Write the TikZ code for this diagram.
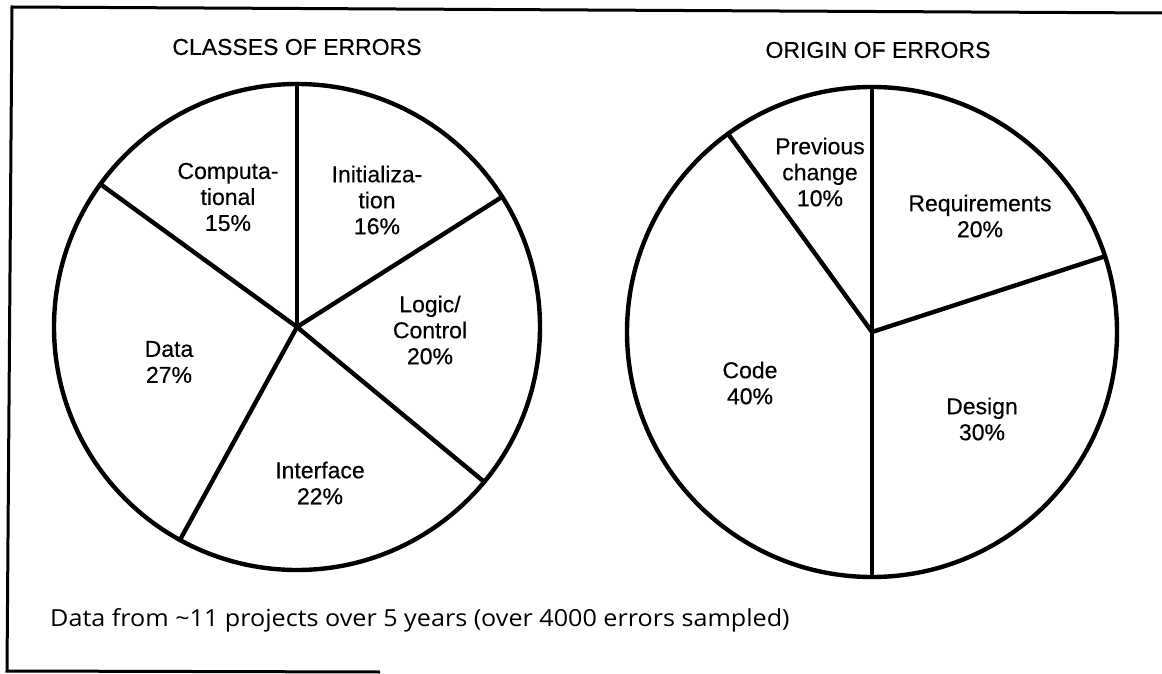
\documentclass[tikz,border=0pt]{standalone}
\usepackage{fontspec}
\setmainfont{Liberation Sans}[FakeBold=0.4,AutoFakeBold=0.4]
\newfontfamily\notefont{Open Sans}[FakeStretch=1.07]
\usetikzlibrary{calc}
\begin{document}
\begin{tikzpicture}[x=1pt,y=1pt,
  pieline/.style={line width=4.4pt,line cap=round,line join=round},
  frameline/.style={line width=3pt},
  slicelabel/.style={align=center,inner sep=0pt,font=\fontsize{23}{26}\selectfont},
  title/.style={inner sep=0pt,font=\fontsize{23}{26}\selectfont}]
\useasboundingbox (0,0) rectangle (1162,673);

% outer frame (open on the right)
\draw[frameline] (1162,660) -- (12,666) -- (7,2) -- (380,1);

% ---------- classes of errors ----------
\coordinate (c1) at (297,346);
\def\ra{243}
\draw[pieline] (c1) circle (\ra);
\foreach \a/\n in {90/a, 144/b, 241.2/c, 320.4/d, 32.4/e}
  \coordinate (c1\n) at ($(c1)+(\a:\ra)$);
\foreach \n in {a,b,c,d,e}
  \draw[pieline] (c1) -- (c1\n);

\node[title] (t1) at (297,626) {CLASSES OF ERRORS};
\node[slicelabel] (comp) at (228,476) {Computa-\\tional\\15\%};
\node[slicelabel] (init) at (377,473) {Initializa-\\tion\\16\%};
\node[slicelabel] (logic) at (430,343) {Logic/\\Control\\20\%};
\node[slicelabel] (data) at (169,311) {Data\\27\%};
\node[slicelabel] (intf) at (320,190) {Interface\\22\%};

% ---------- origin of errors ----------
\coordinate (c2) at (872,341);
\def\rb{245}
\draw[pieline] (c2) circle (\rb);
\foreach \a/\n in {90/a, 126/b, 270/c, 18/d}
  \coordinate (c2\n) at ($(c2)+(\a:\rb)$);
\foreach \n in {a,b,c,d}
  \draw[pieline] (c2) -- (c2\n);

\node[title] (t2) at (878,623) {ORIGIN OF ERRORS};
\node[slicelabel] (prev) at (820,501) {Previous\\change\\10\%};
\node[slicelabel] (req) at (980,457) {Requirements\\20\%};
\node[slicelabel] (code) at (750,290) {Code\\40\%};
\node[slicelabel] (design) at (982,254) {Design\\30\%};

% source note
\node[anchor=base west,inner sep=0pt,font=\notefont\fontsize{23.5}{26}\selectfont] (note) at (50,47)
  {Data from \textasciitilde11 projects over 5 years (over 4000 errors sampled)};
\end{tikzpicture}
\end{document}
